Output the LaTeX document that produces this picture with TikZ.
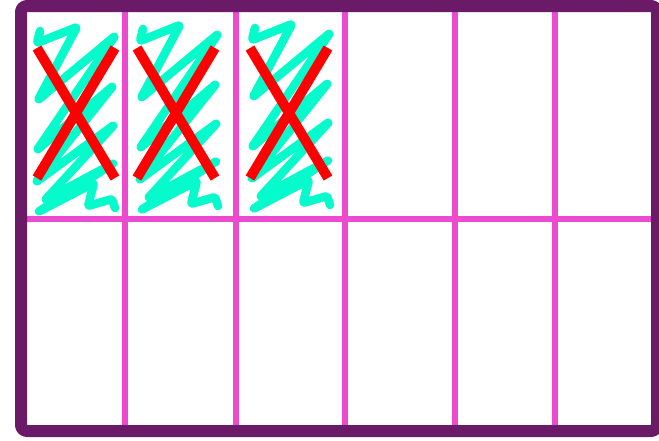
\documentclass[tikz,border=0pt]{standalone}
\usepackage{tikz}
\definecolor{framec}{HTML}{6B1A68}
\definecolor{gridc}{HTML}{EC4BD0}
\definecolor{scribc}{HTML}{05FBCB}
\definecolor{crossc}{HTML}{FF0000}
\begin{document}
\begin{tikzpicture}[x=1pt,y=-1pt,line join=round]
  \useasboundingbox (0,0) rectangle (659,440);
  % scribbles in the three crossed-out boxes
  \foreach \dx/\dy in {0/0,103/-2,215/-3} {
    \draw[scribc,line width=8.5pt,line cap=round,rounded corners=2pt,shift={(\dx,\dy)}]
      (40,31) -- (37,43) -- (77,27) -- (38,100) -- (115,36) -- (37,150) -- (113,86)
      -- (36,182) -- (114,125) -- (45,200) -- (114,163) -- (38,212) -- (94,183)
      -- (88,206) -- (112,199) -- (115,208);
  }
  \foreach \dx in {0,100,213} {\draw[crossc,line width=10pt] (37+\dx,48) -- (115+\dx,178) (115+\dx,48) -- (37+\dx,178);}
  % grid
  \foreach \x in {125,236,345,455,555} {\draw[gridc,line width=6pt] (\x,6) -- (\x,431);}
  \draw[gridc,line width=6pt] (21,219) -- (657,219);
  \draw[framec,line width=12pt,rounded corners=6pt] (21,6) rectangle (657,431);
\end{tikzpicture}
\end{document}
